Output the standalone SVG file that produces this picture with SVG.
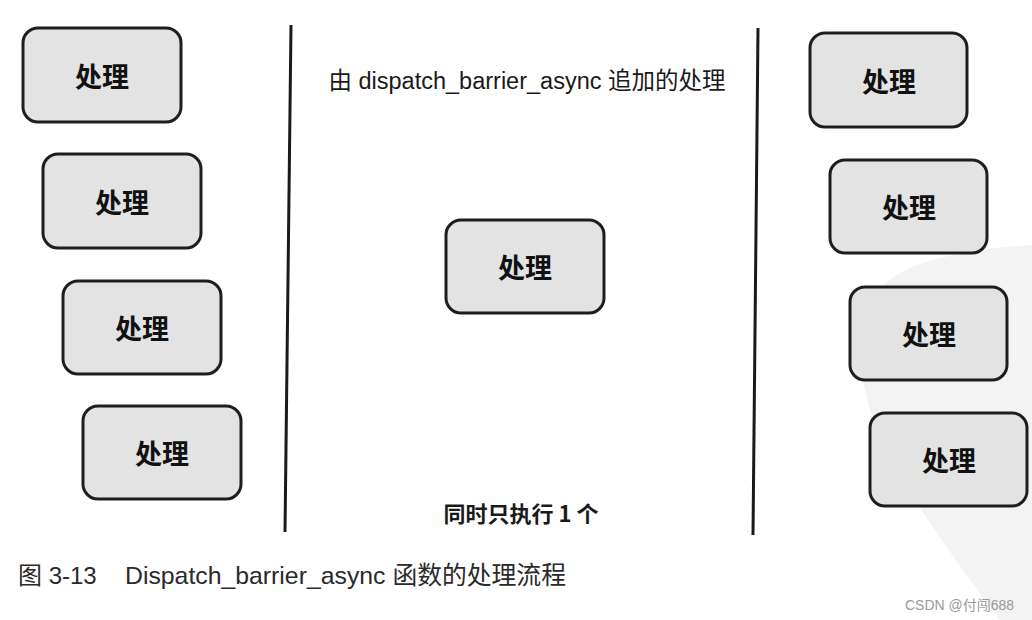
<svg xmlns="http://www.w3.org/2000/svg" width="1032" height="620" viewBox="0 0 1032 620">
<style>
.box{fill:#e3e3e3;stroke:#1e1e1e;stroke-width:3}
.lbl{font-family:"Noto Sans CJK SC","Noto Sans",sans-serif;font-weight:bold;font-size:27px;fill:#111;text-anchor:middle;dominant-baseline:central}
.txt{font-family:"Liberation Sans","Noto Sans CJK SC",sans-serif;font-size:21px;fill:#1a1a1a}
.sep{stroke:#1a1a1a;stroke-width:3;fill:none}
</style>
<rect width="1032" height="620" fill="#ffffff"/>
<path d="M1032 245 C960 250 900 262 880 290 C860 320 855 360 870 410 C890 470 940 540 1000 620 L1032 620 Z" fill="#f3f3f3"/>
<g id="connectors">
<line class="sep" x1="291" y1="25" x2="285" y2="532"/>
<line class="sep" x1="758" y1="28" x2="753" y2="535"/>
</g>
<g id="l1"><rect class="box" x="23" y="28" width="158" height="94" rx="15"/><text class="lbl" x="102" y="75">处理</text></g>
<g id="l2"><rect class="box" x="43" y="154" width="158" height="94" rx="15"/><text class="lbl" x="122" y="201">处理</text></g>
<g id="l3"><rect class="box" x="63" y="281" width="158" height="93" rx="15"/><text class="lbl" x="142" y="327">处理</text></g>
<g id="l4"><rect class="box" x="83" y="406" width="158" height="93" rx="15"/><text class="lbl" x="162" y="452">处理</text></g>
<g id="c1"><rect class="box" x="446" y="220" width="158" height="93" rx="15"/><text class="lbl" x="525" y="266">处理</text></g>
<g id="r1"><rect class="box" x="810" y="33" width="157" height="94" rx="15"/><text class="lbl" x="889" y="80">处理</text></g>
<g id="r2"><rect class="box" x="830" y="160" width="157" height="93" rx="15"/><text class="lbl" x="909" y="206">处理</text></g>
<g id="r3"><rect class="box" x="850" y="287" width="157" height="93" rx="15"/><text class="lbl" x="929" y="333">处理</text></g>
<g id="r4"><rect class="box" x="870" y="413" width="157" height="93" rx="15"/><text class="lbl" x="949" y="459">处理</text></g>
<text class="txt" x="527" y="89" text-anchor="middle" style="font-size:23.5px">由 dispatch_barrier_async 追加的处理</text>
<text class="txt" x="521" y="522" text-anchor="middle" style="font-weight:bold;font-family:'Noto Sans CJK SC',sans-serif;font-size:22px">同时只执行 1 个</text>
<text class="txt" x="18" y="584" style="font-size:24px;fill:#2a2a2a">图 3-13</text>
<text class="txt" x="125" y="584" style="font-size:24.8px;fill:#2a2a2a">Dispatch_barrier_async 函数的处理流程</text>
<text x="905" y="610" style="font-family:'Liberation Sans','Noto Sans CJK SC',sans-serif;font-size:14px;fill:#9a9a9a">CSDN @付闯688</text>
</svg>
